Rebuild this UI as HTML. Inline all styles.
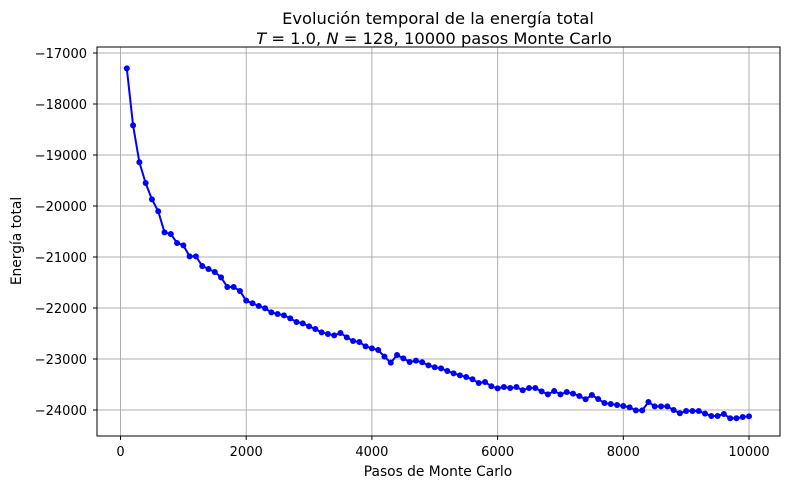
<!DOCTYPE html>
<html><head><meta charset="utf-8"><style>
body{margin:0;background:#fff;}
svg text{font-family:"DejaVu Sans","Liberation Sans",sans-serif;fill:#000;}
</style></head><body>
<svg id="chart" width="790" height="489" xmlns="http://www.w3.org/2000/svg">
<text x="438" y="24" font-size="16.3" text-anchor="middle">Evolución temporal de la energía total</text>
<text x="434" y="44" font-size="16.3" text-anchor="middle"><tspan font-style="italic">T</tspan> = 1.0, <tspan font-style="italic">N</tspan> = 128, 10000 pasos Monte Carlo</text>
<g id="grid"></g>
<g id="series"></g>
<rect x="97" y="47" width="683" height="389" fill="none" stroke="#000" stroke-width="1"/>
<g id="ticks"></g>
<text x="438" y="476" font-size="13.8" text-anchor="middle">Pasos de Monte Carlo</text>
<text x="0" y="0" font-size="13.8" text-anchor="middle" transform="translate(21,241) rotate(-90)">Energía total</text>
</svg>
<script>
const steps = [];
for (let i = 1; i <= 100; i++) steps.push(i * 100);
const energy = [-17300,-18418,-19143,-19549,-19870,-20104,-20516,-20549,-20725,-20771,
-20987,-20987,-21176,-21235,-21294,-21399,-21588,-21588,-21667,-21856,
-21908,-21961,-22006,-22085,-22118,-22144,-22203,-22275,-22301,-22360,
-22412,-22477,-22510,-22536,-22490,-22575,-22647,-22667,-22752,-22791,
-22824,-22954,-23072,-22922,-22987,-23059,-23033,-23065,-23124,-23163,
-23183,-23235,-23281,-23320,-23353,-23398,-23471,-23451,-23535,-23575,
-23549,-23569,-23549,-23614,-23569,-23569,-23634,-23693,-23627,-23693,
-23647,-23680,-23725,-23790,-23706,-23784,-23863,-23882,-23902,-23922,
-23948,-24007,-24007,-23843,-23928,-23928,-23928,-24000,-24065,-24020,
-24020,-24020,-24072,-24118,-24118,-24078,-24163,-24163,-24137,-24124];
const xTicks = [0,2000,4000,6000,8000,10000];
const yTicks = [-17000,-18000,-19000,-20000,-21000,-22000,-23000,-24000];
const NS = "http://www.w3.org/2000/svg";
const L=97,R=780,T=47,B=436;
const xMin=-374,xMax=10493,yMin=-24510,yMax=-16882;
const sx=v=>L+(v-xMin)/(xMax-xMin)*(R-L);
const sy=v=>B-(v-yMin)/(yMax-yMin)*(B-T);
function mk(tag,attrs,parent){const e=document.createElementNS(NS,tag);for(const k in attrs)e.setAttribute(k,attrs[k]);parent.appendChild(e);return e;}
const grid=document.getElementById('grid'),ticks=document.getElementById('ticks'),series=document.getElementById('series');
xTicks.forEach(v=>{const x=sx(v);
 const g=mk('line',{x1:x,x2:x,y1:T,y2:B,stroke:'#b0b0b0','stroke-width':1},grid);
 
 
 const t=mk('line',{x1:x,x2:x,y1:B,y2:B+4,stroke:'#000'},ticks);
 
 
 const l=mk('text',{x:x,y:B+20,'font-size':13,'text-anchor':'middle'},ticks);l.textContent=v;
 
 
});
yTicks.forEach(v=>{const y=sy(v);
 const g=mk('line',{x1:L,x2:R,y1:y,y2:y,stroke:'#b0b0b0','stroke-width':1},grid);
 
 
 const t=mk('line',{x1:L-4,x2:L,y1:y,y2:y,stroke:'#000'},ticks);
 
 
 const l=mk('text',{x:L-10,y:y+5,'font-size':13,'text-anchor':'end'},ticks);l.textContent='\u2212'+Math.abs(v);
 
 
});
const pts=steps.map((s,i)=>sx(s)+','+sy(energy[i])).join(' ');
const pl=mk('polyline',{points:pts,fill:'none',stroke:'#0000ff','stroke-width':2},series);


steps.forEach((s,i)=>{const c=mk('circle',{cx:sx(s),cy:sy(energy[i]),r:3,fill:'#0000ff'},series);
 
 
});
</script>
</body></html>
